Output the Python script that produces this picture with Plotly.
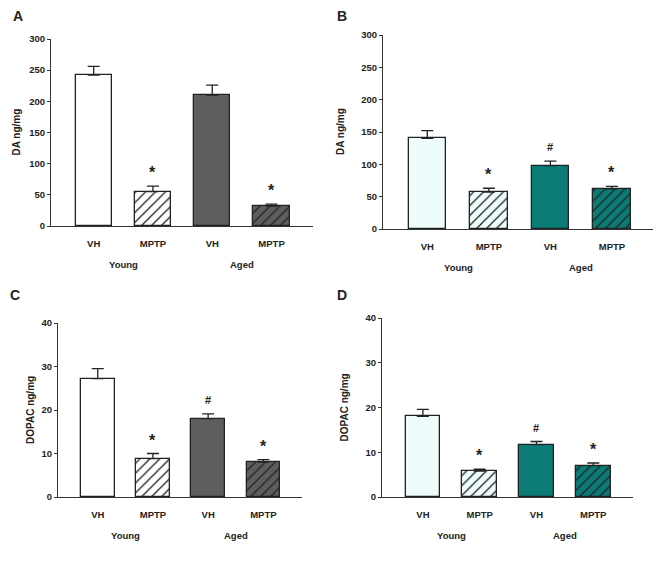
import plotly.graph_objects as go

OFF = 8  # page body margin in the browser
W, H = 661 - OFF, 568 - OFF

conditions = ["VH", "MPTP", "VH", "MPTP"]
groups = ["Young", "Aged"]

da_gray = [242, 55, 210, 32]
da_gray_err = [14, 9, 16, 3]
da_teal = [140, 57, 98, 62]
da_teal_err = [12, 6, 7, 4]
dopac_gray = [27.2, 8.8, 18.0, 8.0]
dopac_gray_err = [2.3, 1.2, 1.1, 0.6]
dopac_teal = [18.0, 5.8, 11.7, 7.0]
dopac_teal_err = [1.6, 0.4, 0.7, 0.6]

sig_A = ["", "*", "", "*"]
sig_B = ["", "*", "#", "*"]
sig_C = ["", "*", "#", "*"]
sig_D = ["", "*", "#", "*"]

gray_colors = ["#ffffff", "#ffffff", "#5e5e5e", "#5e5e5e"]
teal_colors = ["#eefcfc", "#eefcfc", "#0b7b75", "#0b7b75"]
hatch = ["", "/", "", "/"]

# panel pixel geometry in the reference: (x_axis_left, x_axis_right, y_bottom, y_top)
panels = [
    dict(name="A", vals=da_gray, err=da_gray_err, colors=gray_colors, sig=sig_A,
         ytitle="DA ng/mg", yr=300, dt=50, px=(51, 313, 226, 39), lab=(11, 16), tx=16),
    dict(name="B", vals=da_teal, err=da_teal_err, colors=teal_colors, sig=sig_B,
         ytitle="DA ng/mg", yr=300, dt=50, px=(383, 655, 229, 35), lab=(335, 16), tx=340),
    dict(name="C", vals=dopac_gray, err=dopac_gray_err, colors=gray_colors, sig=sig_C,
         ytitle="DOPAC ng/mg", yr=40, dt=10, px=(58, 302, 497, 323), lab=(8, 295), tx=30),
    dict(name="D", vals=dopac_teal, err=dopac_teal_err, colors=teal_colors, sig=sig_D,
         ytitle="DOPAC ng/mg", yr=40, dt=10, px=(382, 633, 497, 318), lab=(335, 295), tx=344),
]


def fx(px):
    return (px - OFF) / W


def fy(py):
    return 1 - (py - OFF) / H


XR = [-0.72, 3.7]
xpos = [0, 1, 2, 3]

fig = go.Figure()
font = dict(family="Liberation Sans, Arial", color="#222222")

for i, p in enumerate(panels):
    n = i + 1
    xa = "x" if n == 1 else f"x{n}"
    ya = "y" if n == 1 else f"y{n}"
    xl, xr, yb, yt = p["px"]
    for j in range(4):
        c = p["colors"][j]
        fig.add_trace(go.Bar(
            x=[xpos[j]], y=[p["vals"][j]], width=0.61, xaxis=xa, yaxis=ya,
            marker=dict(color=c, line=dict(color="#222222", width=1.3),
                        pattern=dict(shape=hatch[j], fgcolor="#222222", bgcolor=c,
                                     size=7, solidity=0.18, fillmode="replace")),
            error_y=dict(type="data", array=[p["err"][j]], arrayminus=[0], symmetric=False,
                         color="#222222", thickness=1.3, width=6),
            showlegend=False, hoverinfo="skip",
        ))
    xkey = "xaxis" if n == 1 else f"xaxis{n}"
    ykey = "yaxis" if n == 1 else f"yaxis{n}"
    fig.update_layout({
        xkey: dict(domain=[fx(xl), fx(xr)], range=XR, anchor=ya, showgrid=False,
                   zeroline=False, showline=True, linecolor="#333333", linewidth=1.2,
                   tickvals=xpos, ticktext=conditions, ticks="", ticklabelstandoff=8,
                   tickfont=dict(size=9.5, weight="bold", **font), fixedrange=True,
                   automargin=False),
        ykey: dict(domain=[fy(yb), fy(yt)], range=[0, p["yr"]], anchor=xa,
                   dtick=p["dt"], showgrid=False, zeroline=False, showline=True,
                   linecolor="#333333", linewidth=1.2, ticks="outside", ticklen=3,
                   tickcolor="#333333", tickfont=dict(size=9.5, weight="bold", **font),
                   fixedrange=True, automargin=False),
    })
    for j, s in enumerate(p["sig"]):
        if s:
            fig.add_annotation(x=xpos[j], y=p["vals"][j] + p["err"][j], xref=xa, yref=ya,
                               text=f"<b>{s}</b>", showarrow=False, yanchor="bottom",
                               yshift=3 if s == "*" else 6,
                               font=dict(size=16 if s == "*" else 11, **font))
    for g, gx in zip(groups, [0.5, 2.5]):
        fig.add_annotation(x=gx, y=0, xref=xa, yref=ya, text=f"<b>{g}</b>", showarrow=False,
                           yanchor="top", yshift=-31, font=dict(size=9.5, **font))
    fig.add_annotation(x=fx(p["tx"]), y=fy((yb + yt) / 2), xref="paper", yref="paper",
                       text=f"<b>{p['ytitle']}</b>", textangle=-90, showarrow=False,
                       xanchor="center", yanchor="middle",
                       font=dict(size=10, **font))
    fig.add_annotation(x=fx(p["lab"][0]), y=fy(p["lab"][1]), xref="paper", yref="paper",
                       text=f"<b>{p['name']}</b>", showarrow=False, xanchor="left",
                       yanchor="middle", font=dict(size=14, **font))

fig.update_layout(width=W, height=H, margin=dict(l=0, r=0, t=0, b=0, autoexpand=False),
                  paper_bgcolor="white", plot_bgcolor="white", bargap=0, barmode="overlay")
fig.write_html("out.html")
